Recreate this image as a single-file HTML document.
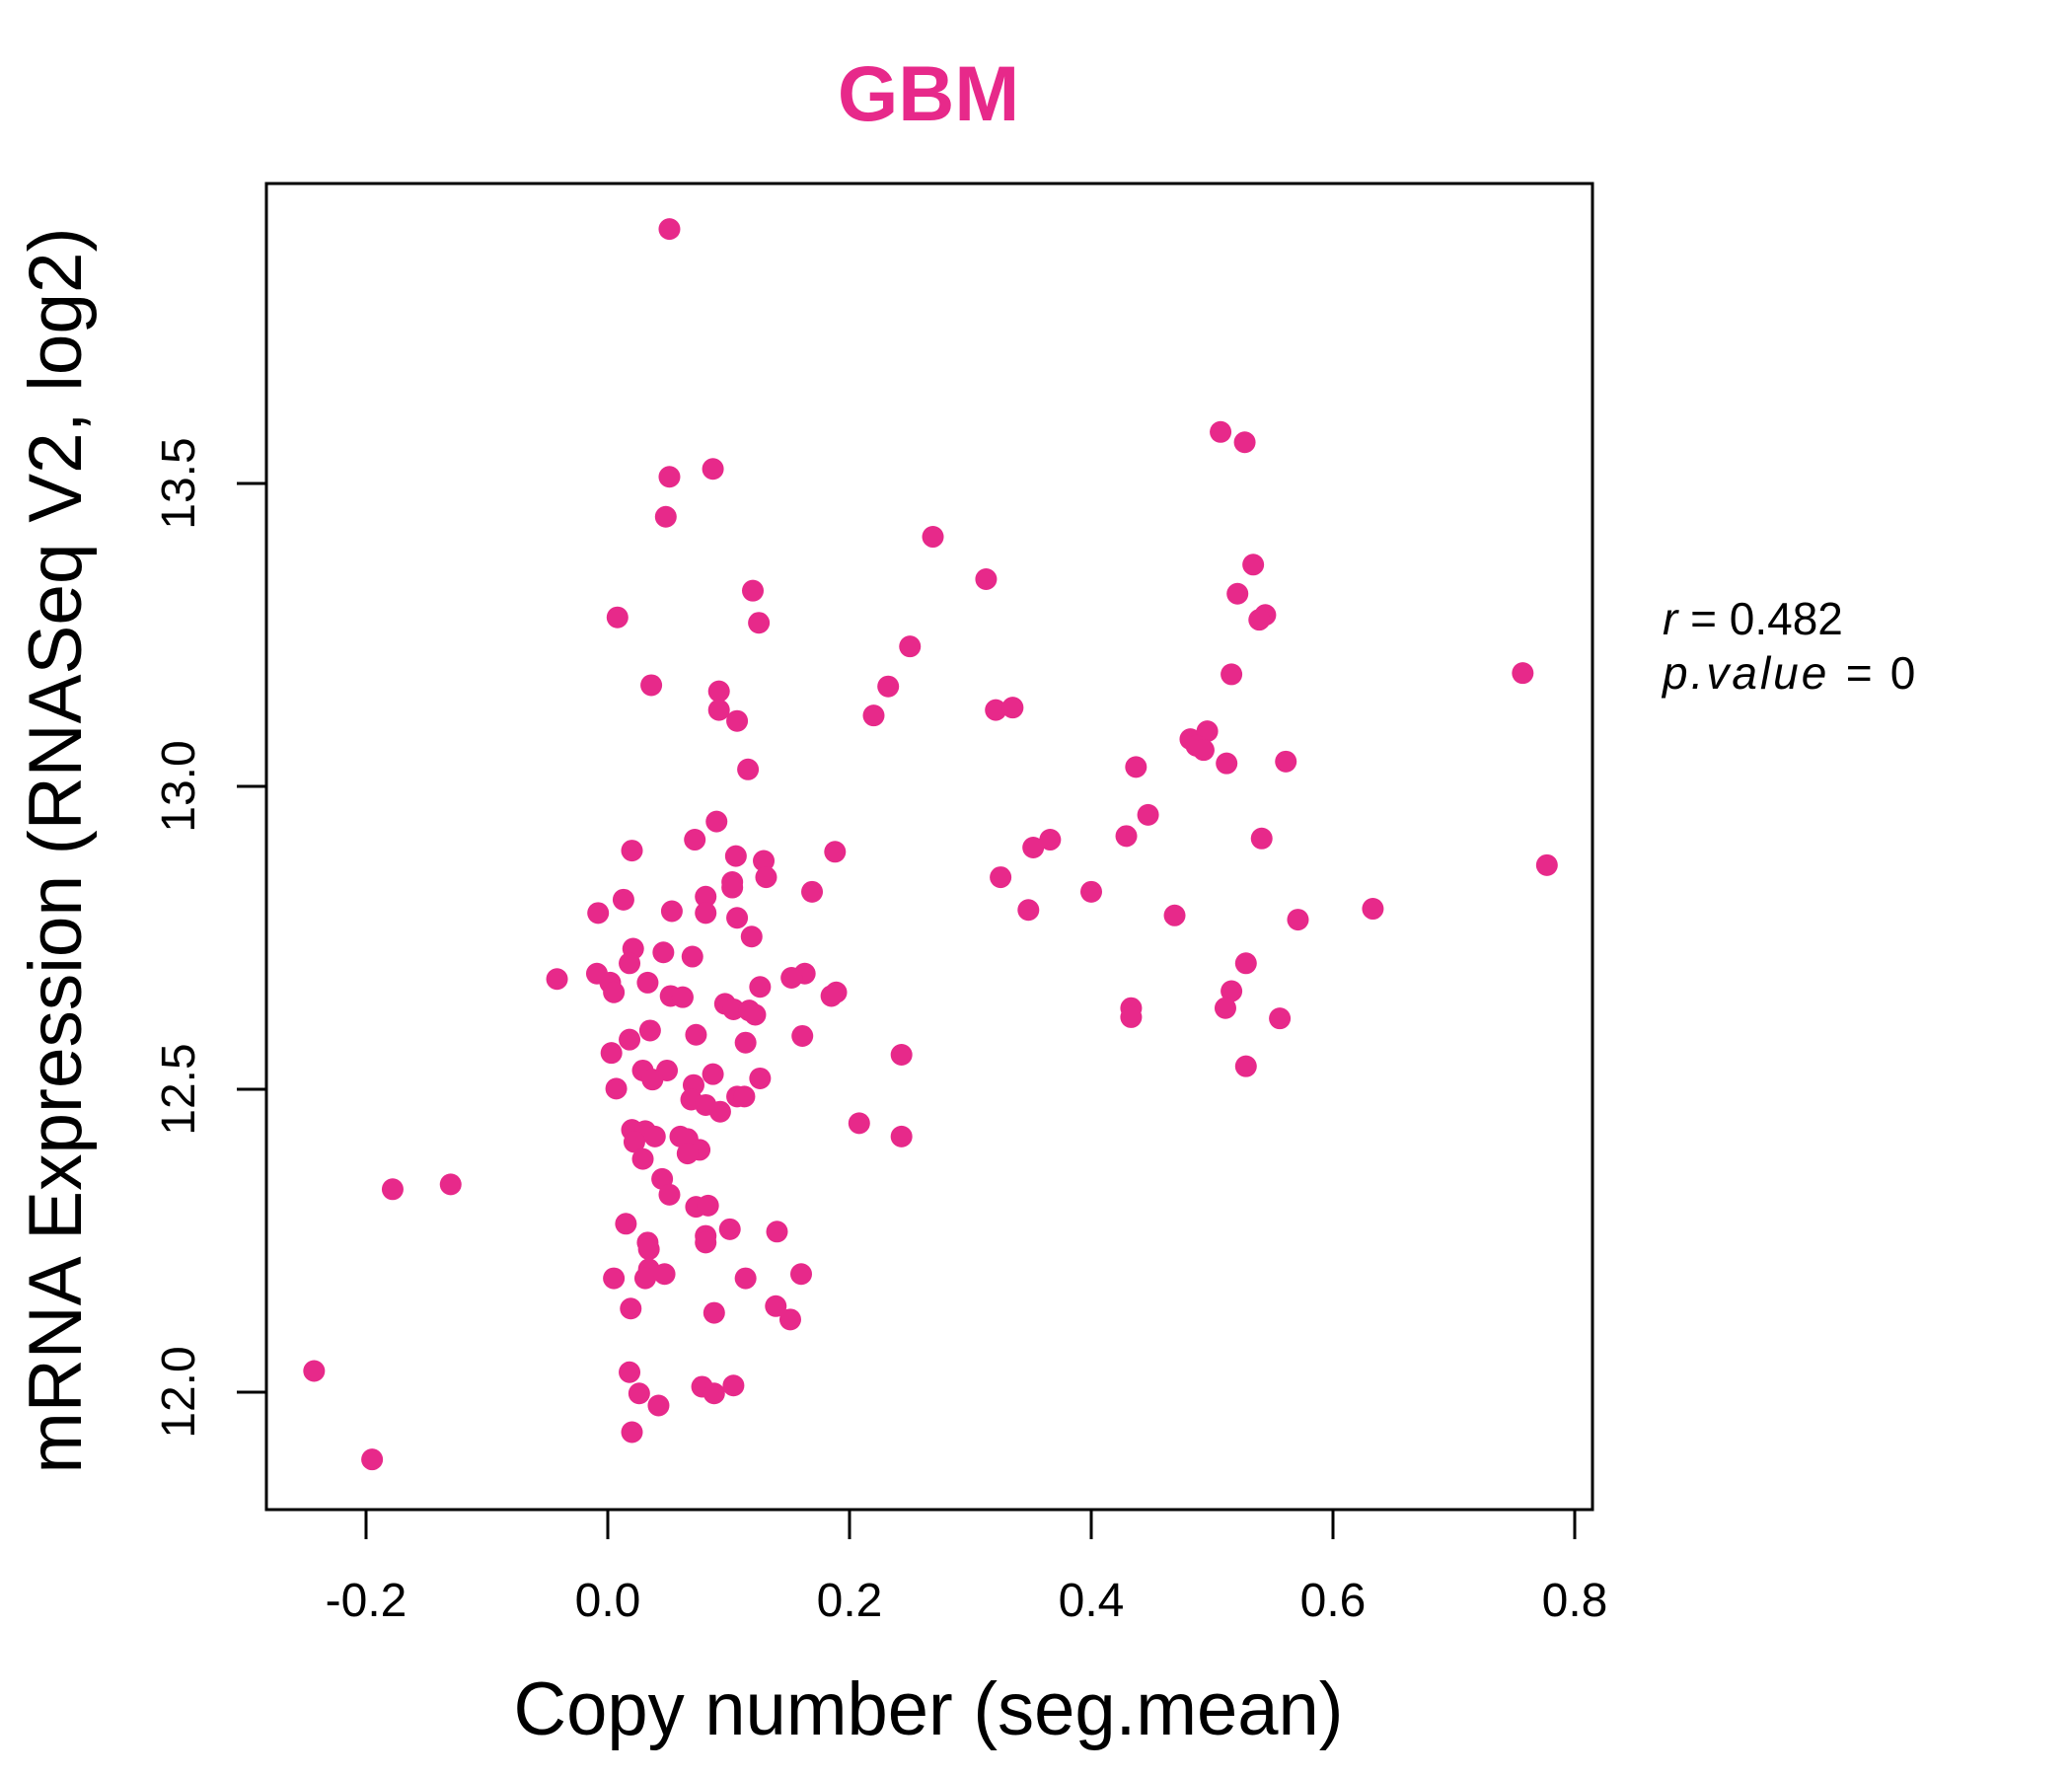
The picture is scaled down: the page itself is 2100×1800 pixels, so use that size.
<!DOCTYPE html>
<html>
<head>
<meta charset="utf-8">
<style>
  html, body { margin: 0; padding: 0; background: #ffffff; }
  svg { display: block; }
  text { font-family: "Liberation Sans", "DejaVu Sans", sans-serif; }
</style>
</head>
<body>
<svg id="chart" width="2100" height="1800" viewBox="0 0 2100 1800" xmlns="http://www.w3.org/2000/svg">
  <rect x="0" y="0" width="2100" height="1800" fill="#ffffff"/>
  <text x="941" y="122" font-size="79" font-weight="bold" fill="#e7298a" text-anchor="middle">GBM</text>
  <g id="points"></g>
  <rect x="270" y="186" width="1344" height="1344" fill="none" stroke="#000" stroke-width="3"/>
  <g id="xaxis"></g>
  <g id="yaxis"></g>
  <text x="941" y="1758" font-size="76" text-anchor="middle" textLength="841" lengthAdjust="spacingAndGlyphs">Copy number (seg.mean)</text>
  <text transform="translate(82,862) rotate(-90)" font-size="76" text-anchor="middle" textLength="1263" lengthAdjust="spacingAndGlyphs">mRNA Expression (RNASeq V2, log2)</text>
  <text x="1685" y="643" font-size="46"><tspan font-style="italic">r</tspan> = 0.482</text>
  <text x="1685" y="698" font-size="46" font-style="italic" letter-spacing="3">p.value = <tspan font-style="normal">0</tspan></text>
</svg>
<script>
const xTicks = [-0.2, 0.0, 0.2, 0.4, 0.6, 0.8];
const xTickLabels = ["-0.2", "0.0", "0.2", "0.4", "0.6", "0.8"];
const yTicks = [12.0, 12.5, 13.0, 13.5];
const yTickLabels = ["12.0", "12.5", "13.0", "13.5"];
const copyNumber = [0.051,0.087,0.051,0.048,0.507,0.527,0.269,0.313,0.534,0.120,0.521,0.125,0.008,0.544,0.539,0.250,0.757,0.516,0.036,0.092,0.232,0.092,0.107,0.220,0.321,0.335,0.482,0.496,0.487,0.493,0.512,0.561,0.437,0.116,0.447,0.090,0.429,0.366,0.352,0.541,0.072,0.020,0.188,0.106,0.129,0.131,0.777,0.325,0.103,0.103,0.169,0.400,0.013,0.081,-0.008,0.053,0.081,0.348,0.469,0.633,0.107,0.571,0.119,0.021,0.046,0.070,0.018,0.528,-0.009,-0.042,0.163,0.152,0.002,0.033,0.126,0.005,0.189,0.185,0.516,0.052,0.062,0.097,0.104,0.511,0.433,0.433,0.117,0.122,0.556,0.035,0.073,0.161,0.018,0.114,0.003,0.243,0.029,0.049,0.087,0.037,0.126,0.528,0.007,0.071,0.069,0.107,0.113,0.081,0.093,0.208,0.020,0.031,0.243,0.039,0.022,0.060,0.066,0.076,0.066,0.029,0.045,-0.178,-0.130,0.051,0.073,0.083,0.015,0.140,0.101,0.081,0.033,0.081,0.034,0.160,0.034,0.005,0.031,0.047,0.114,0.019,0.139,0.151,0.088,-0.243,0.018,0.078,0.104,0.026,0.088,0.042,0.020,-0.195];
const expression = [13.92,13.524,13.511,13.445,13.585,13.568,13.412,13.342,13.366,13.323,13.318,13.270,13.279,13.283,13.275,13.231,13.187,13.185,13.167,13.157,13.165,13.126,13.108,13.117,13.126,13.130,13.078,13.091,13.067,13.060,13.038,13.041,13.032,13.028,12.953,12.942,12.918,12.912,12.899,12.914,12.912,12.894,12.892,12.885,12.877,12.850,12.870,12.850,12.842,12.833,12.826,12.826,12.813,12.818,12.791,12.794,12.791,12.796,12.787,12.798,12.783,12.780,12.752,12.732,12.726,12.719,12.708,12.708,12.691,12.682,12.691,12.684,12.676,12.676,12.669,12.660,12.660,12.654,12.662,12.654,12.652,12.641,12.632,12.634,12.634,12.619,12.630,12.623,12.617,12.597,12.590,12.588,12.582,12.577,12.560,12.557,12.531,12.531,12.525,12.516,12.518,12.538,12.501,12.507,12.483,12.488,12.488,12.474,12.463,12.444,12.433,12.431,12.422,12.422,12.413,12.422,12.418,12.400,12.394,12.385,12.352,12.335,12.343,12.326,12.306,12.308,12.278,12.265,12.269,12.258,12.247,12.247,12.236,12.195,12.203,12.188,12.188,12.195,12.188,12.138,12.142,12.120,12.131,12.035,12.033,12.009,12.011,11.998,11.998,11.978,11.934,11.889];

const NS = "http://www.w3.org/2000/svg";
const X0 = 616, XPER = 1225;   // px at x=0, px per unit
const Y0 = 1411, YPER = 614;   // px at y=12, px per unit
function sx(v) { return X0 + v * XPER; }
function sy(v) { return Y0 - (v - 12) * YPER; }
function mk(tag, attrs) {
  const e = document.createElementNS(NS, tag);
  for (const k in attrs) e.setAttribute(k, attrs[k]);
  return e;
}

const pts = document.getElementById("points");
for (let i = 0; i < copyNumber.length; i++) {
  const c = mk("ellipse", { cx: sx(copyNumber[i]), cy: sy(expression[i]), rx: 11, ry: 11, fill: "#e7298a" });
  
  
  pts.appendChild(c);
}

const xa = document.getElementById("xaxis");
const xl = mk("line", { x1: sx(xTicks[0]), x2: sx(xTicks[xTicks.length - 1]), y1: 1530, y2: 1530, stroke: "#000", "stroke-width": 3 });


xa.appendChild(xl);
xTicks.forEach((t, i) => {
  const tk = mk("line", { x1: sx(t), x2: sx(t), y1: 1530, y2: 1560, stroke: "#000", "stroke-width": 3 });
  
  
  xa.appendChild(tk);
  const lb = mk("text", { x: sx(t), y: 1638, "font-size": 48, "text-anchor": "middle" });
  lb.textContent = xTickLabels[i];
  
  
  xa.appendChild(lb);
});

const ya = document.getElementById("yaxis");
const yl = mk("line", { x1: 270, x2: 270, y1: sy(yTicks[0]), y2: sy(yTicks[yTicks.length - 1]), stroke: "#000", "stroke-width": 3 });


ya.appendChild(yl);
yTicks.forEach((t, i) => {
  const tk = mk("line", { x1: 240, x2: 270, y1: sy(t), y2: sy(t), stroke: "#000", "stroke-width": 3 });
  
  
  ya.appendChild(tk);
  const lb = mk("text", { transform: "translate(197," + sy(t) + ") rotate(-90)", "font-size": 48, "text-anchor": "middle" });
  lb.textContent = yTickLabels[i];
  
  
  ya.appendChild(lb);
});
</script>
</body>
</html>
